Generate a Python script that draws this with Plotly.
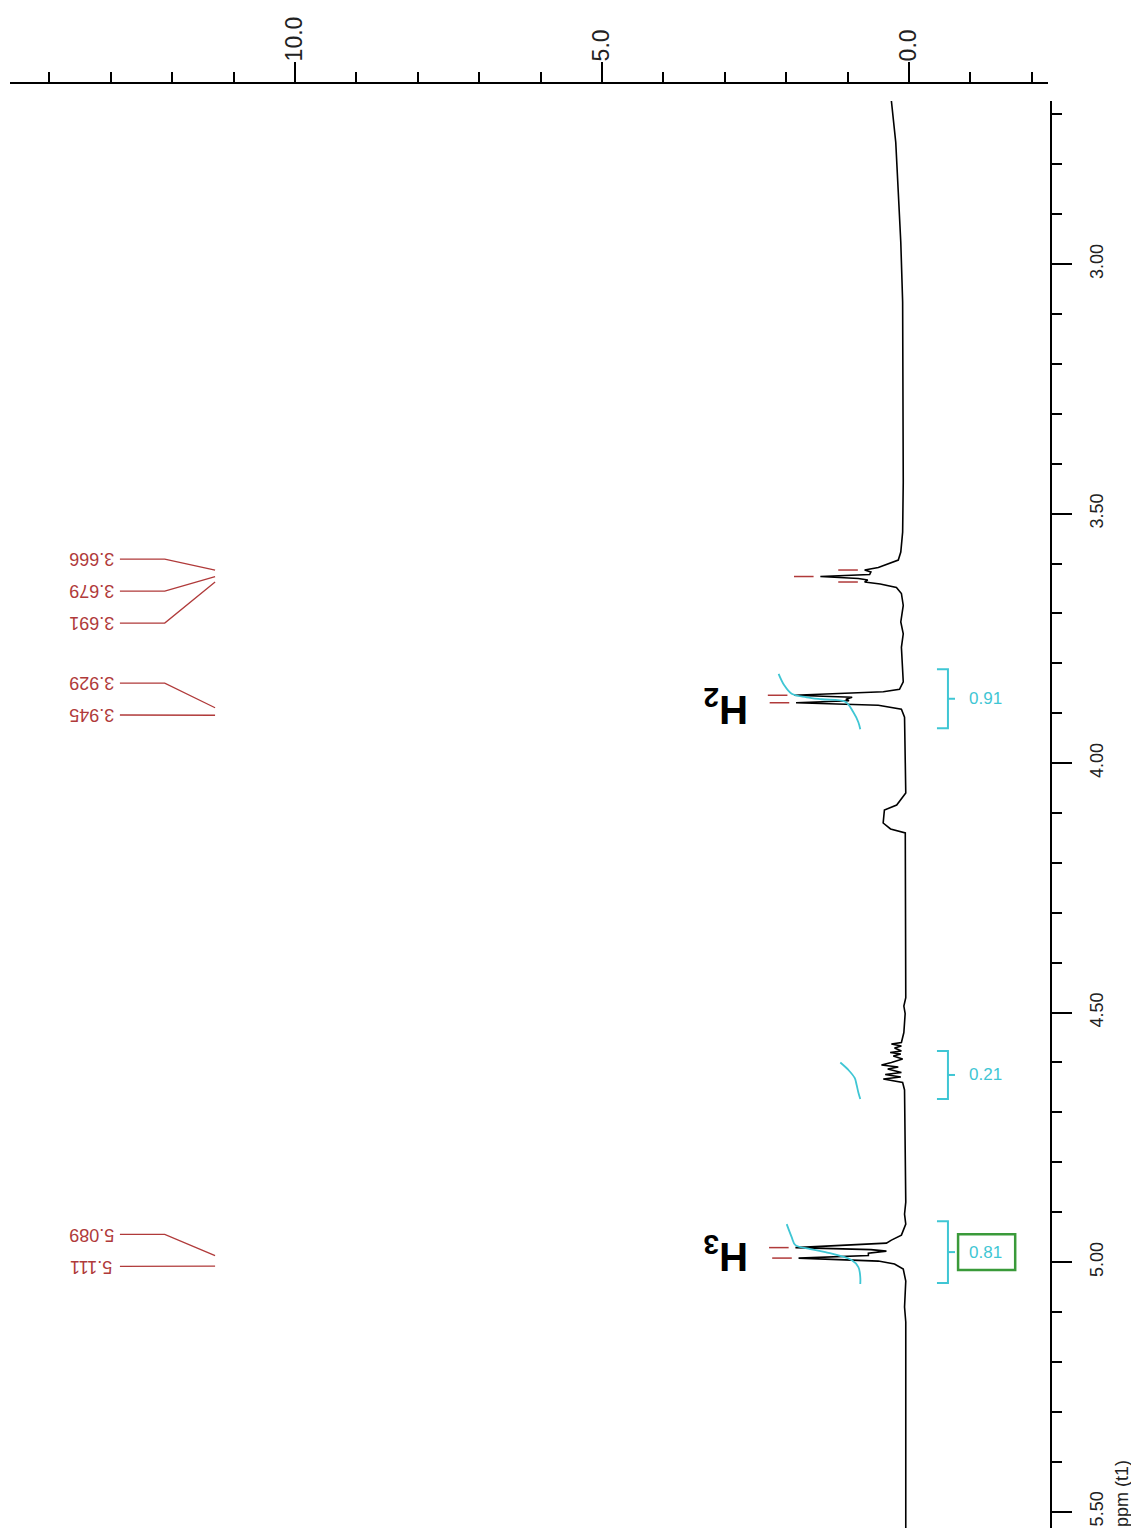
import plotly.graph_objects as go

# 1H spectrum trace: shift on the drawn ppm axis and intensity
spec_ppm = [2.673, 2.756, 2.856, 2.956, 3.076, 3.277, 3.437, 3.537, 3.577, 3.593,
            3.601, 3.608, 3.613, 3.617, 3.622, 3.626, 3.630, 3.633, 3.637, 3.641,
            3.648, 3.660, 3.684, 3.717, 3.741, 3.768, 3.837, 3.852, 3.857, 3.864,
            3.868, 3.872, 3.875, 3.879, 3.884, 3.892, 3.908, 4.060, 4.084, 4.094,
            4.120, 4.132, 4.140, 4.278, 4.470, 4.487, 4.502, 4.540, 4.560, 4.563,
            4.567, 4.571, 4.577, 4.580, 4.583, 4.587, 4.593, 4.600, 4.605, 4.609,
            4.613, 4.620, 4.624, 4.629, 4.633, 4.640, 4.655, 4.880, 4.904, 4.924,
            4.946, 4.956, 4.962, 4.971, 4.975, 4.978, 4.982, 4.987, 4.992, 4.998,
            5.004, 5.014, 5.038, 5.090, 5.120, 5.549]
spec_int = [0.286, 0.215, 0.174, 0.133, 0.103, 0.093, 0.093, 0.103, 0.133, 0.174,
            0.336, 0.499, 0.722, 0.620, 0.640, 1.443, 0.824, 0.671, 0.722, 0.468,
            0.204, 0.123, 0.093, 0.133, 0.093, 0.123, 0.093, 0.154, 0.418, 1.869,
            0.925, 1.027, 0.976, 1.839, 0.499, 0.123, 0.072, 0.052, 0.200, 0.400,
            0.420, 0.300, 0.060, 0.052, 0.052, 0.083, 0.062, 0.083, 0.123, 0.286,
            0.123, 0.235, 0.123, 0.306, 0.133, 0.255, 0.103, 0.286, 0.448, 0.174,
            0.346, 0.123, 0.387, 0.133, 0.418, 0.103, 0.072, 0.052, 0.072, 0.052,
            0.123, 0.286, 0.367, 1.849, 0.620, 0.367, 0.661, 0.661, 1.798, 0.499,
            0.235, 0.093, 0.052, 0.072, 0.052, 0.052]

# picked peaks: where they sit on the drawn axis, and the printed shift
peak_pos = [3.613, 3.626, 3.637, 3.864, 3.879, 4.971, 4.992]
peak_int = [0.722, 1.443, 0.722, 1.869, 1.839, 1.849, 1.798]
peak_label = [3.666, 3.679, 3.691, 3.929, 3.945, 5.089, 5.111]
peak_group = [0, 0, 0, 1, 1, 2, 2]

# integrals
int_from = [3.812, 4.577, 4.918]
int_to = [3.930, 4.673, 5.042]
int_value = [0.91, 0.21, 0.81]
int_curve_ppm = [[3.821, 3.844, 3.861, 3.868, 3.872, 3.877, 3.898, 3.918, 3.932],
                 [4.600, 4.615, 4.631, 4.644, 4.660, 4.673],
                 [4.924, 4.950, 4.966, 4.974, 4.980, 4.996, 5.010, 5.030, 5.044]]
int_curve_val = [[2.123, 2.031, 1.910, 1.666, 1.422, 1.037, 0.905, 0.824, 0.793],
                 [1.118, 0.986, 0.884, 0.854, 0.824, 0.793],
                 [1.991, 1.910, 1.849, 1.605, 1.361, 0.935, 0.824, 0.793, 0.793]]
boxed_integral = 2

# proton assignments
h_text = ["H<sub>2</sub>", "H<sub>3</sub>"]
h_ppm = [3.888, 4.984]
h_int = [2.98, 2.98]

RED = "#b03a3a"
CYAN = "#3fc6d4"
GREEN = "#3a9a3a"
FONT = "Arial, Liberation Sans, sans-serif"

# label column placement (per peak group)
label_shift = [0.030, 0.0, -0.005]
lead_shift = [0.0, 0.025, 0.016]
label_step = 0.064

fig = go.Figure()

# spectrum
fig.add_trace(go.Scatter(x=spec_int, y=spec_ppm, mode="lines",
                         line=dict(color="black", width=1.6), hoverinfo="skip"))

# peak markers just above each apex
fig.add_trace(go.Scatter(x=[v + 0.27 for v in peak_int], y=peak_pos, mode="markers",
                         marker=dict(symbol="line-ew", size=14, line=dict(color=RED, width=1.5)),
                         hoverinfo="skip"))

# peak labels (upside down column on the left) with leader lines
label_x, start_x, knee_x, end_x = 13.31, 12.85, 12.12, 11.30
for g in sorted(set(peak_group)):
    idx = [i for i, pg in enumerate(peak_group) if pg == g]
    centre = sum(peak_pos[i] for i in idx) / len(idx) + label_shift[g]
    for k, i in enumerate(idx):
        lab_y = centre + (k - (len(idx) - 1) / 2) * label_step
        fig.add_trace(go.Scatter(x=[start_x, knee_x, end_x],
                                 y=[lab_y, lab_y, peak_pos[i] + lead_shift[g]],
                                 mode="lines", line=dict(color=RED, width=1.3),
                                 hoverinfo="skip"))
        fig.add_annotation(x=label_x, y=lab_y, text="%.3f" % peak_label[i], textangle=180,
                           showarrow=False, font=dict(family=FONT, size=18, color=RED))

# integral curves, brackets and values
for i in range(len(int_value)):
    fig.add_trace(go.Scatter(x=int_curve_val[i], y=int_curve_ppm[i], mode="lines",
                             line=dict(color=CYAN, width=1.8, shape="spline"),
                             hoverinfo="skip"))
    mid = (int_from[i] + int_to[i]) / 2
    fig.add_trace(go.Scatter(x=[-0.456, -0.635, -0.635, -0.456],
                             y=[int_from[i], int_from[i], int_to[i], int_to[i]],
                             mode="lines", line=dict(color=CYAN, width=2), hoverinfo="skip"))
    fig.add_trace(go.Scatter(x=[-0.635, -0.75], y=[mid, mid], mode="lines",
                             line=dict(color=CYAN, width=2), hoverinfo="skip"))
    fig.add_annotation(x=-1.24, y=mid, text="%.2f" % int_value[i], showarrow=False,
                       font=dict(family=FONT, size=17, color=CYAN))
    if i == boxed_integral:
        fig.add_shape(type="rect", xref="x", yref="y", x0=-0.80, x1=-1.73,
                      y0=mid - 0.036, y1=mid + 0.036, line=dict(color=GREEN, width=2.5))

# H2 / H3 labels (upside down)
for t, yy, xx in zip(h_text, h_ppm, h_int):
    fig.add_annotation(x=xx, y=yy, text="<b>%s</b>" % t, textangle=180, showarrow=False,
                       font=dict(family=FONT, size=40, color="black"))

fig.add_annotation(xref="paper", yref="paper", x=1.068, y=0.005, text="ppm (t1)",
                   textangle=-90, xanchor="center", yanchor="bottom", showarrow=False,
                   font=dict(family=FONT, size=18, color="#222"))

axis_common = dict(showline=True, linecolor="black", linewidth=2, ticks="outside",
                   ticklen=20, tickwidth=2, tickcolor="black", tickangle=-90,
                   showgrid=False, zeroline=False, anchor="free", position=1)

fig.update_layout(
    width=1139, height=1528,
    margin=dict(l=2, r=96, t=75, b=0),
    paper_bgcolor="white", plot_bgcolor="white",
    showlegend=False,
    xaxis=dict(domain=[0, 0.9971], range=[14.64, -2.264], side="top",
               dtick=5, tick0=0, tickformat=".1f", ticklabelstandoff=-4,
               tickfont=dict(family=FONT, size=23, color="#222"),
               minor=dict(dtick=1, tick0=0, ticks="outside", ticklen=10, tickwidth=2,
                          tickcolor="black", showgrid=False),
               **axis_common),
    yaxis=dict(domain=[0, 0.9876], range=[5.549, 2.673], side="right",
               dtick=0.5, tick0=0, tickformat=".2f", ticklabelstandoff=9,
               tickfont=dict(family=FONT, size=18, color="#222"),
               minor=dict(dtick=0.1, tick0=0, ticks="outside", ticklen=10, tickwidth=2,
                          tickcolor="black", showgrid=False),
               **axis_common),
)

fig.write_html("out.html")
